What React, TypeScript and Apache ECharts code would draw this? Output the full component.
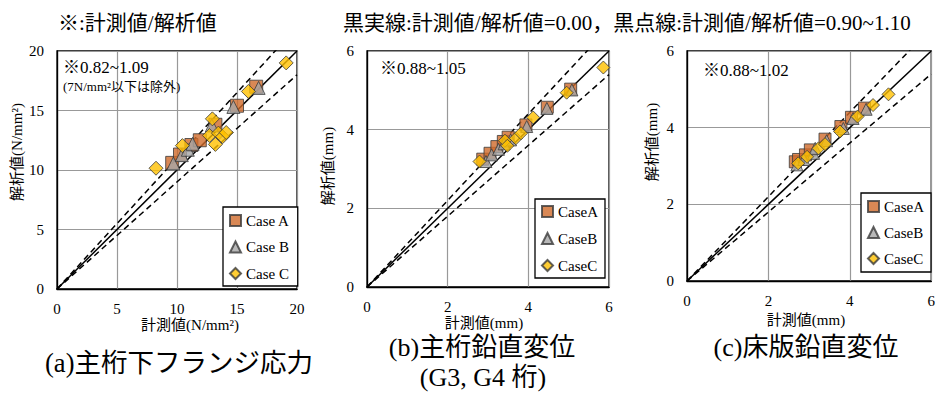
import React, { useEffect, useRef } from "react";
import * as echarts from "echarts";

const FONT = "Liberation Serif, Noto Sans CJK JP, serif";

// ---- (a) 主桁下フランジ応力 ----
const aCaseAX = [9.6, 10.25, 11.2, 11.9, 13.2, 15.0, 16.6];
const aCaseAY = [10.6, 11.3, 12.1, 12.5, 13.8, 15.4, 17.0];
const aCaseBX = [9.7, 10.4, 10.9, 11.3, 12.9, 14.7, 16.8];
const aCaseBY = [10.55, 11.25, 11.7, 12.2, 13.75, 15.3, 16.9];
const aCaseCX = [8.25, 10.45, 12.7, 12.95, 13.2, 13.45, 13.8, 14.1, 15.95, 19.1];
const aCaseCY = [10.15, 12.05, 12.9, 14.3, 12.15, 13.1, 12.8, 13.15, 16.6, 19.0];

// ---- (b) 主桁鉛直変位 ----
const bCaseAX = [2.87, 3.05, 3.22, 3.38, 3.5, 3.94, 4.47, 5.05];
const bCaseAY = [3.25, 3.4, 3.57, 3.7, 3.81, 4.12, 4.57, 5.03];
const bCaseBX = [2.95, 3.09, 3.26, 3.4, 3.56, 3.96, 4.46, 5.08];
const bCaseBY = [3.19, 3.36, 3.5, 3.64, 3.74, 4.08, 4.54, 5.01];
const bCaseCX = [2.79, 3.42, 3.48, 3.69, 3.82, 4.12, 4.95, 5.86];
const bCaseCY = [3.19, 3.72, 3.59, 3.78, 3.91, 4.31, 4.94, 5.58];

// ---- (c) 床版鉛直変位 ----
const cCaseAX = [2.66, 2.74, 2.91, 3.03, 3.39, 3.78, 4.04, 4.36];
const cCaseAY = [3.11, 3.17, 3.29, 3.42, 3.7, 4.03, 4.27, 4.51];
const cCaseBX = [2.7, 2.87, 3.11, 3.15, 3.43, 3.84, 4.08, 4.4];
const cCaseBY = [3.03, 3.17, 3.33, 3.46, 3.66, 3.98, 4.24, 4.48];
const cCaseCX = [2.73, 2.95, 3.23, 3.39, 3.76, 4.19, 4.57, 4.95];
const cCaseCY = [3.07, 3.24, 3.46, 3.57, 3.9, 4.29, 4.59, 4.87];

// axes
const aAxisMax = 20;
const aAxisInterval = 5;
const bcAxisMax = 6;
const bcAxisInterval = 2;

// reference line ratios (solid 1.0, dotted 0.9~1.1)
const solidRatio = 1.0;
const dashRatios = [1.1, 0.9];

const namesA = ["Case A", "Case B", "Case C"];
const namesBC = ["CaseA", "CaseB", "CaseC"];

const COLORS = ["#CF6A2B", "#A6A6A6", "#FFC000"];
const SYMBOLS = ["rect", "triangle", "diamond"];

const zip = (xs: number[], ys: number[]) => xs.map((x, i) => [x, ys[i]]);

export default function App() {
  const ref = useRef<HTMLDivElement>(null);
  useEffect(() => {
    if (!ref.current) return;
    const chart = echarts.init(ref.current, null, { renderer: "svg" });

    const grids = [
      { left: 57, top: 51, width: 240, height: 238 },
      { left: 367, top: 51, width: 242, height: 236 },
      { left: 687, top: 51, width: 247, height: 230 },
    ];
    const panels = [
      { max: aAxisMax, interval: aAxisInterval, names: namesA, size: 13,
        data: [zip(aCaseAX, aCaseAY), zip(aCaseBX, aCaseBY), zip(aCaseCX, aCaseCY)] },
      { max: bcAxisMax, interval: bcAxisInterval, names: namesBC, size: 12,
        data: [zip(bCaseAX, bCaseAY), zip(bCaseBX, bCaseBY), zip(bCaseCX, bCaseCY)] },
      { max: bcAxisMax, interval: bcAxisInterval, names: namesBC, size: 12,
        data: [zip(cCaseAX, cCaseAY), zip(cCaseBX, cCaseBY), zip(cCaseCX, cCaseCY)] },
    ];

    const axisCommon = (max: number, interval: number) => ({
      type: "value",
      min: 0,
      max,
      interval,
      axisLine: { show: true, lineStyle: { color: "#000", width: 1.3 } },
      axisTick: { show: false },
      splitLine: { show: true, lineStyle: { color: "#999", width: 1.2 } },
      axisLabel: { color: "#000", fontFamily: FONT, fontSize: 15 },
    });

    const xAxis = panels.map((p, i) => ({
      ...axisCommon(p.max, p.interval),
      gridIndex: i,
      axisLabel: { ...axisCommon(p.max, p.interval).axisLabel, margin: 12 },
    }));
    const yAxis = panels.map((p, i) => ({
      ...axisCommon(p.max, p.interval),
      gridIndex: i,
      axisLabel: { ...axisCommon(p.max, p.interval).axisLabel, margin: 13 },
    }));

    const series: any[] = [];
    panels.forEach((p, i) => {
      series.push({
        type: "line",
        xAxisIndex: i,
        yAxisIndex: i,
        data: [[0, 0], [p.max, p.max * solidRatio]],
        showSymbol: false,
        silent: true,
        lineStyle: { color: "#000", width: 1.5, type: "solid" },
        z: 3,
      });
      dashRatios.forEach((r) => {
        series.push({
          type: "line",
          xAxisIndex: i,
          yAxisIndex: i,
          data: [[0, 0], [p.max, p.max * r]],
          showSymbol: false,
          silent: true,
          lineStyle: { color: "#000", width: 1.5, type: [6, 4] },
          z: 3,
        });
      });
      p.data.forEach((d, k) => {
        series.push({
          type: "scatter",
          name: p.names[k],
          xAxisIndex: i,
          yAxisIndex: i,
          data: d,
          symbol: SYMBOLS[k],
          symbolSize: k === 2 ? p.size + 1 : p.size,
          itemStyle: { color: COLORS[k], borderColor: "#3a3a3a", borderWidth: 1 },
          z: 4 + k,
        });
      });
    });

    const legendCommon = {
      orient: "vertical",
      backgroundColor: "#fff",
      borderColor: "#000",
      borderWidth: 1.3,
      itemWidth: 11,
      itemHeight: 11,
      itemGap: 11.5,
      selectedMode: false,
      textStyle: { fontFamily: FONT, fontSize: 15, color: "#000", lineHeight: 15 },
      z: 10,
    };
    const legend = [
      { ...legendCommon, data: namesA, left: 223, top: 207, padding: [6, 8, 5, 6] },
      { ...legendCommon, data: namesBC, left: 535, top: 199, itemGap: 12, padding: [5, 7, 5, 6] },
      { ...legendCommon, data: namesBC, left: 861, top: 193, itemGap: 11, padding: [6, 7, 6, 6] },
    ];

    const txt = (text: string, x: number, y: number, size: number, align = "left", rotation = 0) => ({
      type: "text",
      x,
      y,
      rotation,
      style: {
        text,
        fontFamily: FONT,
        fontSize: size,
        fill: "#000",
        align,
        verticalAlign: "middle",
      },
      z: 20,
    });

    const graphic = [
      txt("※:計測値/解析値", 58, 23, 21),
      txt("黒実線:計測値/解析値=0.00，黒点線:計測値/解析値=0.90~1.10", 343, 23, 21),
      txt("※0.82~1.09", 63, 67, 17),
      txt("(7N/mm²以下は除外)", 63, 86, 13),
      txt("※0.88~1.05", 380, 68, 17),
      txt("※0.88~1.02", 703, 70, 17),
      txt("計測値(N/mm²)", 190, 325, 15, "center"),
      txt("計測値(mm)", 484, 323, 15, "center"),
      txt("計測値(mm)", 806, 320, 15, "center"),
      txt("解析値(N/mm²)", 17, 152, 15, "center", Math.PI / 2),
      txt("解析値(mm)", 328, 166, 15, "center", Math.PI / 2),
      txt("解析値(mm)", 652, 142, 15, "center", Math.PI / 2),
      txt("(a)主桁下フランジ応力", 179, 363, 26.5, "center"),
      txt("(b)主桁鉛直変位", 482, 347, 26, "center"),
      txt("(G3, G4 桁)", 483, 377, 26, "center"),
      txt("(c)床版鉛直変位", 806, 347, 26, "center"),
    ];

    chart.setOption({
      animation: false,
      backgroundColor: "#fff",
      grid: grids.map((g) => ({ ...g, show: true, borderColor: "#000", borderWidth: 1.3 })),
      xAxis,
      yAxis,
      legend,
      series,
      graphic,
    });
    return () => chart.dispose();
  }, []);
  return (
    <div
      ref={ref}
      style={{ position: "fixed", left: 0, top: 0, width: 938, height: 394 }}
    />
  );
}
